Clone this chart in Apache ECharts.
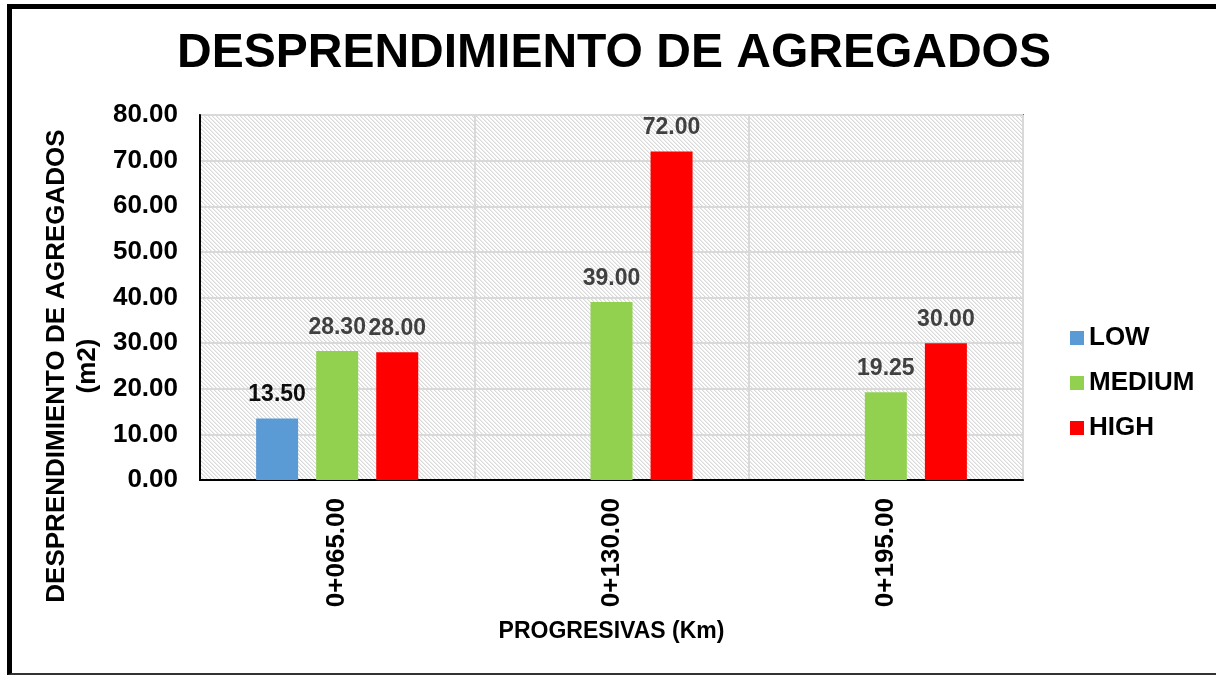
<!DOCTYPE html>
<html>
<head>
<meta charset="utf-8">
<script src="https://cdn.jsdelivr.net/npm/echarts@6/dist/echarts.min.js"></script>
<style>
  html, body { margin: 0; padding: 0; background: #fff; }
  #wrap { position: relative; width: 1216px; height: 675px; overflow: hidden; }
  #chart { width: 1216px; height: 675px; }
  #frame {
    position: absolute; left: 7px; top: 4px; width: 1300px; height: 664px;
    border-left: 5px solid #000; border-top: 5px solid #000; border-bottom: 2px solid #333;
    pointer-events: none;
  }
</style>
</head>
<body>
<div id="wrap">
  <div id="chart"></div>
  <div id="frame"></div>
</div>
<script>
  // progresivas
  var categories = ['0+065.00', '0+130.00', '0+195.00']
  // area (m2) por severidad
  var lowValues = [13.5, null, null]
  var mediumValues = [28.3, 39, 19.25]
  var highValues = [28, 72, 30]
  var yTicks = { min: 0, max: 80, interval: 10 }

  var font = '"Liberation Sans", Arial, sans-serif'

  // fondo rayado del area de trazado
  function hatch() {
    var c = document.createElement('canvas')
    c.width = 4
    c.height = 4
    var ctx = c.getContext('2d')
    ctx.fillStyle = '#ffffff'
    ctx.fillRect(0, 0, 4, 4)
    for (var i = 0; i < 4; i++) {
      ctx.fillStyle = '#d9d9d9'
      ctx.fillRect(i, i, 1, 1)
      ctx.fillStyle = '#ededed'
      ctx.fillRect((i + 1) % 4, i, 1, 1)
    }
    return { image: c, repeat: 'repeat' }
  }

  function fmt(v) {
    return Number(v).toFixed(2)
  }

  function barLabel(color) {
    return {
      show: true,
      position: 'top',
      distance: 12,
      color: color,
      fontFamily: font,
      fontWeight: 'bold',
      fontSize: 23,
      formatter: function (p) { return fmt(p.value) }
    }
  }

  var myChart = echarts.init(document.getElementById('chart'))
  var option = {
    animation: false,
    title: {
      text: 'DESPRENDIMIENTO DE AGREGADOS',
      left: 614,
      textAlign: 'center',
      top: 30,
      padding: 0,
      textStyle: { fontFamily: font, fontWeight: 'bold', fontSize: 48, color: '#000' }
    },
    legend: {
      data: ['LOW', 'MEDIUM', 'HIGH'],
      orient: 'vertical',
      left: 1065,
      top: 320,
      icon: 'rect',
      itemWidth: 14,
      itemHeight: 14,
      itemGap: 19,
      textStyle: { fontFamily: font, fontWeight: 'bold', fontSize: 26, lineHeight: 26, color: '#000' }
    },
    grid: {
      left: 200,
      top: 115,
      right: 193,
      bottom: 195,
      show: true,
      backgroundColor: hatch(),
      borderColor: '#000',
      borderWidth: 1.5
    },
    graphic: [{
      type: 'text',
      x: 72,
      y: 366,
      rotation: Math.PI / 2,
      style: {
        text: 'DESPRENDIMIENTO DE AGREGADOS\n(m2)',
        fontFamily: font,
        fontWeight: 'bold',
        fontSize: 26,
        lineHeight: 31,
        fill: '#000',
        align: 'center',
        verticalAlign: 'middle'
      }
    }],
    xAxis: {
      type: 'category',
      data: categories,
      name: 'PROGRESIVAS (Km)',
      nameLocation: 'middle',
      nameGap: 140,
      nameTextStyle: { fontFamily: font, fontWeight: 'bold', fontSize: 23, color: '#000' },
      axisLine: { lineStyle: { color: '#000', width: 2 } },
      axisTick: { show: false },
      axisLabel: {
        rotate: 90,
        margin: 18,
        fontFamily: font,
        fontWeight: 'bold',
        fontSize: 26,
        color: '#000'
      },
      splitLine: { show: true, interval: 0, lineStyle: { color: '#d9d9d9', width: 2 } }
    },
    yAxis: {
      type: 'value',
      min: yTicks.min,
      max: yTicks.max,
      interval: yTicks.interval,
      axisLine: { show: true, lineStyle: { color: '#000', width: 2 } },
      axisTick: { show: false },
      axisLabel: {
        margin: 22,
        fontFamily: font,
        fontWeight: 'bold',
        fontSize: 26,
        color: '#000',
        formatter: fmt
      },
      splitLine: { lineStyle: { color: '#d9d9d9', width: 2 } }
    },
    series: [
      {
        name: 'LOW',
        type: 'bar',
        data: lowValues,
        barWidth: 42,
        barGap: '43%',
        itemStyle: { color: '#5b9bd5' },
        label: barLabel('#0d0d0d')
      },
      {
        name: 'MEDIUM',
        type: 'bar',
        data: mediumValues,
        barWidth: 42,
        barGap: '43%',
        itemStyle: { color: '#92d050' },
        label: barLabel('#404040')
      },
      {
        name: 'HIGH',
        type: 'bar',
        data: highValues,
        barWidth: 42,
        barGap: '43%',
        itemStyle: { color: '#ff0000' },
        label: barLabel('#404040')
      }
    ]
  }
  myChart.setOption(option, true)
</script>
</body>
</html>
